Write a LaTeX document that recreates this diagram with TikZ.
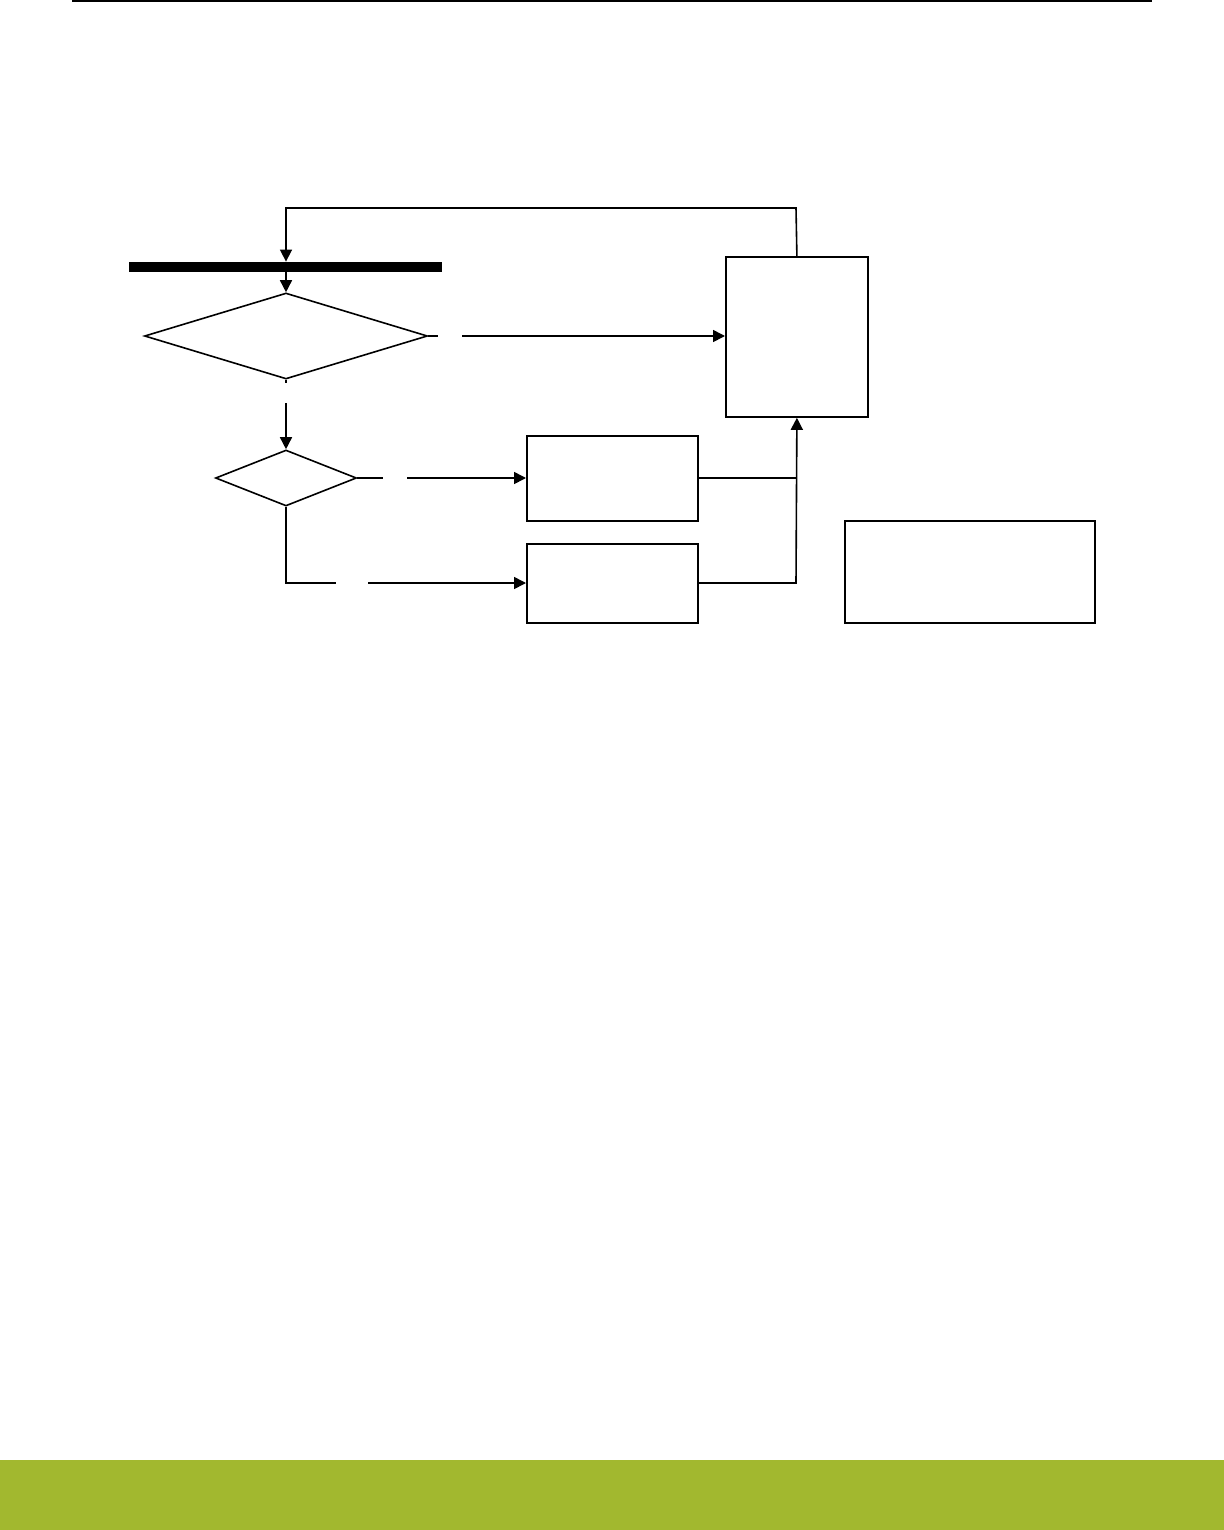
\documentclass[tikz,border=0pt]{standalone}
\usetikzlibrary{shapes.geometric,arrows.meta}
\definecolor{bandgreen}{RGB}{162,184,47}
\begin{document}
\begin{tikzpicture}[x=0.5pt,y=-0.5pt,
  conn/.style={line width=0.8pt},
  arr/.style={conn,-{Triangle[length=6pt,width=6pt]}},
  boxnode/.style={draw,line width=0.9pt,inner sep=0pt,anchor=north west},
  dia/.style={draw,diamond,line width=0.8pt,inner sep=0pt}]
\useasboundingbox (0,0) rectangle (1224,1530);
\fill[white] (0,0) rectangle (1224,1530);
% header rule and footer band
\draw[line width=0.75pt] (72,1) -- (1152,1);
\fill[bandgreen] (0,1460) rectangle (1224,1530);
% sync bar
\node[fill=black,inner sep=0pt,minimum width=313*0.5pt,minimum height=10*0.5pt] (bar) at (285.5,267) {};
% decisions
\node[dia,minimum width=283*0.5pt,minimum height=86*0.5pt] (d1) at (286,336) {};
\node[dia,minimum width=141*0.5pt,minimum height=56*0.5pt] (d2) at (286,478) {};
% boxes
\node[boxnode,minimum width=142*0.5pt,minimum height=160*0.5pt] (big) at (725,256) {};
\node[boxnode,minimum width=171*0.5pt,minimum height=85*0.5pt] (b1) at (526,435) {};
\node[boxnode,minimum width=171*0.5pt,minimum height=79*0.5pt] (b2) at (526,543) {};
\node[boxnode,minimum width=250*0.5pt,minimum height=102*0.5pt] (note) at (844,520) {};
% coordinates for routing / gaps
\coordinate (fbtop) at (796,208);
\coordinate (fbleft) at (286,208);
\coordinate (g1a) at (438,336);
\coordinate (g1b) at (462,336);
\coordinate (g2a) at (286,383);
\coordinate (g2b) at (286,403);
\coordinate (g3a) at (383,478);
\coordinate (g3b) at (407,478);
\coordinate (cornerA) at (286,583);
\coordinate (g4a) at (336,583);
\coordinate (g4b) at (368,583);
\coordinate (j1) at (796,478);
\coordinate (j2) at (796,583);
% connectors
\draw[arr] (big.north) -- (fbtop) -- (fbleft) -- (bar.north -| fbleft);
\draw[arr] (bar.south -| d1.north) -- (d1.north);
\draw[conn] (d1.east) -- (g1a);
\draw[arr] (g1b) -- (big.west |- g1b);
\draw[conn] (d1.south) -- (g2a);
\draw[arr] (g2b) -- (d2.north);
\draw[conn] (d2.east) -- (g3a);
\draw[arr] (g3b) -- (b1.west |- g3b);
\draw[conn] (d2.south) -- (cornerA) -- (g4a);
\draw[arr] (g4b) -- (b2.west |- g4b);
\draw[conn] (b1.east |- j1) -- (j1);
\draw[arr] (b2.east |- j2) -- (j2) -- (big.south);
\end{tikzpicture}
\end{document}
